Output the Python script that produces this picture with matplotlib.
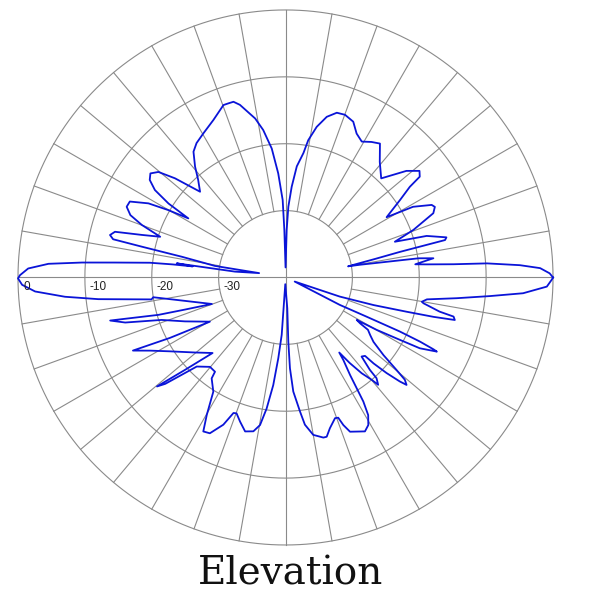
import numpy as np
import matplotlib
matplotlib.use('Agg')
import matplotlib.pyplot as plt

# traced pattern, in drawing order: angle (deg, 0 = right, counter-clockwise) and gain (dB)
angle_deg = [
    0.0, 0.9, 2.1, 3.0, 4.0, 4.5, 5.3, 5.8, 7.4, 8.2, 9.7, 10.1, 11.7, 12.6, 13.2, 14.0,
    16.4, 18.1, 20.4, 23.5, 25.3, 26.4, 29.0, 30.8, 34.1, 36.1, 36.9, 38.5, 41.4, 46.0,
    50.8, 54.8, 57.6, 60.7, 63.7, 66.5, 69.9, 72.7, 75.6, 78.3, 80.6, 81.8, 84.2, 86.1,
    87.7, 88.6, 89.8, 91.4, 92.1, 94.0, 96.1, 98.6, 100.8, 104.8, 106.5, 108.2, 109.8,
    114.6, 119.7, 123.5, 126.2, 129.2, 131.8, 134.9, 138.1, 140.3, 142.4, 144.3, 146.2,
    147.7, 148.7, 150.1, 151.6, 154.0, 156.0, 158.1, 159.9, 162.0, 163.5, 165.0, 166.4,
    167.5, 167.9, 168.7, 170.7, 170.6, 173.4, 172.6, 173.2, 173.4, 173.8, 175.0, 175.8,
    176.7, 178.0, 179.5, 180.2, 181.6, 183.2, 185.0, 186.6, 189.3, 188.5,
    199.8, 197.7, 196.4, 193.8, 195.7, 198.9, 203.6, 210.3, 207.6, 205.6, 208.4, 212.6,
    219.6, 226.0, 222.6, 220.3, 221.5, 225.1, 229.8, 233.2, 233.8, 237.7, 240.2, 241.9,
    244.1, 247.1, 249.0, 250.2, 252.5, 255.3, 258.2, 260.2, 261.8, 263.5, 264.9, 266.2,
    266.5, 268.0, 273.3, 272.5, 272.8, 273.9, 276.2, 277.5, 280.0, 283.3, 284.5, 286.4,
    289.4, 290.6, 291.4, 292.7, 297.3, 299.3, 301.0, 302.1, 302.7, 303.5, 305.0, 305.6,
    306.9, 308.5, 310.1, 310.8, 312.1, 312.4, 313.9, 315.4, 315.7, 316.6, 317.7, 318.4,
    319.4, 320.2, 321.6, 323.8, 325.8, 327.6, 328.4, 329.2, 330.1, 331.4, 332.2, 333.9,
    334.1, 334.5, 334.7, 334.2, 333.2, 336.0, 340.6, 342.6, 344.2, 345.1, 345.9, 346.9,
    347.5, 349.4, 349.9, 351.2, 353.1, 354.8, 356.2, 358.0, 359.5, 360.0,
]
gain_db = [
    0.0, -0.5, -1.9, -4.9, -9.8, -14.8, -18.8, -20.5, -17.7, -19.9, -28.7, -30.5, -26.3, -22.5, -15.5, -15.2,
    -18.0, -22.8, -19.6, -15.9, -15.3, -15.6, -18.2, -22.4, -19.3, -17.0, -14.9, -14.4, -15.9, -19.4,
    -17.7, -15.5, -16.0, -16.7, -16.0, -14.6, -14.1, -14.2, -15.2, -17.0, -19.2, -21.2, -23.3, -26.4,
    -29.4, -32.9, -38.5, -32.9, -28.4, -24.4, -20.6, -17.7, -15.8, -13.3, -12.6, -12.6, -12.6,
    -14.1, -15.2, -15.9, -16.7, -18.6, -20.4, -21.9, -17.8, -15.3, -14.5, -15.0, -16.5,
    -19.3, -23.0, -19.8, -16.7, -14.1, -14.0, -15.0, -17.1, -20.3, -17.6, -13.6, -13.0,
    -13.6, -18.0, -24.2, -29.3, -36.0, -32.4, -23.6, -26.0, -23.0, -19.6, -14.4, -9.5,
    -4.5, -1.5, -0.3, 0.0, -0.6, -2.5, -6.9, -11.8, -19.7, -20.0,
    -28.3, -24.2, -20.2, -13.0, -15.1, -20.4, -23.6, -26.9, -20.5, -14.7, -17.0, -19.5,
    -22.4, -24.3, -19.6, -14.8, -16.0, -21.2, -22.5, -22.4, -21.3, -19.8, -16.3, -13.9,
    -14.1, -16.1, -18.3, -18.4, -17.4, -16.2, -16.5, -17.6, -20.2, -23.8, -27.9, -31.4,
    -35.4, -39.0, -35.4, -30.4, -26.4, -22.9, -19.8, -17.8, -16.1, -15.4, -15.4, -16.5,
    -17.7, -17.6, -16.3, -15.0, -14.1, -14.7, -16.0, -18.1, -20.3, -22.5, -24.9, -26.2,
    -24.0, -21.7, -20.0, -18.8, -19.7, -21.3, -23.6, -23.3, -21.6, -19.2, -16.9, -15.8,
    -16.5, -18.4, -21.3, -23.7, -24.7, -25.4, -26.9, -27.6, -24.3, -20.5, -17.3, -14.8,
    -15.4, -17.7, -21.1, -26.5, -30.9, -38.5, -31.4, -26.2, -21.2, -17.1, -13.9, -14.2,
    -16.4, -19.0, -19.3, -18.6, -14.2, -9.3, -4.4, -0.9, -0.2, 0.0,
]

ring_levels = [0, -10, -20, -30]
ring_labels = ['0', '-10', '-20', '-30']
r_min = -40

grid_color = '#8a8a8a'

fig = plt.figure(figsize=(6, 6), dpi=100)
ax = fig.add_axes([0.030, 0.0917, 0.8917, 0.8917], projection='polar')
ax.set_theta_zero_location('E')
ax.set_ylim(r_min, 0)
ax.grid(False)
ax.set_xticks([])
ax.set_yticks([])
ax.spines['polar'].set_visible(False)

# rings
t = np.linspace(0, 2 * np.pi, 721)
for level in ring_levels:
    ax.plot(t, np.full_like(t, level), color=grid_color, lw=0.8, clip_on=False)

# spokes every 10 deg, from the -30 ring out; the two axes go through the centre
for a in range(0, 360, 10):
    start = r_min if a % 90 == 0 else ring_levels[-1]
    ax.plot([np.radians(a)] * 2, [start, 0], color=grid_color, lw=0.8, clip_on=False)

# ring labels on the left axis
for level, label in zip(ring_levels, ring_labels):
    ax.annotate(label, xy=(np.pi, level), xytext=(5, -10), textcoords='offset pixels',
                ha='left', va='center', fontsize=8.5, family='Liberation Sans', color='#222222')

# pattern
ax.plot(np.radians(angle_deg), gain_db, color='#0a14d8', lw=1.3, clip_on=False)

fig.text(0.485, 0.026, 'Elevation', ha='center', va='baseline',
         family='DejaVu Serif', fontsize=28, color='#111111')

plt.savefig('out.png', dpi=100, facecolor='white')
plt.close()
